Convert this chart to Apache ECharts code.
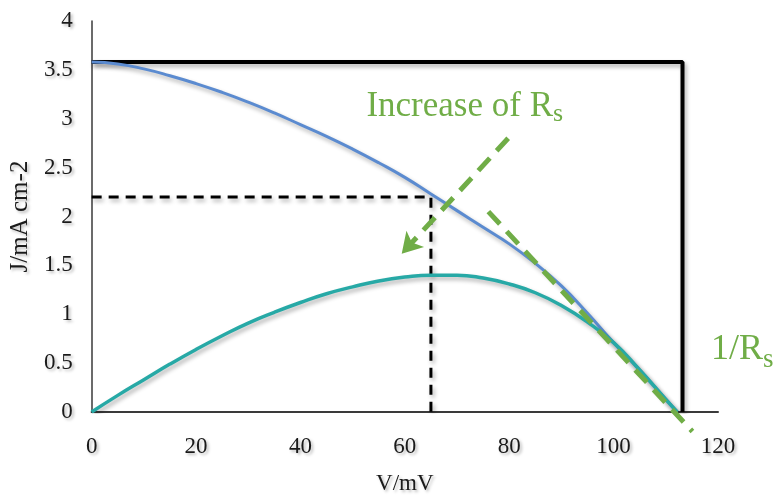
<!DOCTYPE html>
<html>
<head>
<meta charset="utf-8">
<script src="https://cdn.jsdelivr.net/npm/echarts@6/dist/echarts.min.js"></script>
<style>
  html, body { margin: 0; padding: 0; background: #fff; }
  #chart { width: 783px; height: 500px; }
</style>
</head>
<body>
<div id="chart"></div>
<script>
// Voltage samples (mV)
const voltage = [0, 5, 10, 15, 20, 25, 30, 35, 40, 45, 50, 55, 60, 65, 70, 75, 80, 85, 90, 95, 100, 105, 110, 112.2];
// Current density J (mA cm-2)
const currentDensity = [3.58, 3.56, 3.51, 3.44, 3.36, 3.27, 3.17, 3.06, 2.94, 2.82, 2.69, 2.55, 2.40, 2.23, 2.06, 1.89, 1.72, 1.52, 1.29, 1.01, 0.71, 0.43, 0.13, 0];
// Power curve (same vertical scale)
const power = [0, 0.17, 0.33, 0.49, 0.64, 0.78, 0.91, 1.02, 1.12, 1.21, 1.28, 1.34, 1.38, 1.40, 1.40, 1.37, 1.31, 1.22, 1.09, 0.92, 0.71, 0.43, 0.13, 0];

// Ideal rectangle: Jsc up to Voc
const jsc = 3.58;
const vocBox = 113.2;
// Maximum power point
const vmp = 65;
const jmp = 2.20;
// Series-resistance slope line near Voc
const slopeLine = [[76, 2.05], [115.1, -0.2]];
// "Increase of Rs" arrow
const arrowStart = [79.8, 2.80];
const arrowEnd = [59.4, 1.62];

const xTicks = { min: 0, max: 120, step: 20 };
const yTicks = { min: 0, max: 4, step: 0.5 };

const green = '#70AD47';
const serif = '"Liberation Serif", "Times New Roman", serif';
const labelShadow = {
  textShadowColor: 'rgba(0,0,0,0.28)',
  textShadowBlur: 3,
  textShadowOffsetX: 2,
  textShadowOffsetY: 2
};
const lineShadow = {
  shadowColor: 'rgba(0,0,0,0.3)',
  shadowBlur: 4,
  shadowOffsetX: 2,
  shadowOffsetY: 3
};

const pair = (xs, ys) => xs.map((x, i) => [x, ys[i]]);

const chart = echarts.init(document.getElementById('chart'), null, { renderer: 'canvas' });

chart.setOption({
  animation: false,
  backgroundColor: '#fff',
  grid: { left: 89, right: 65, top: 21, bottom: 88, containLabel: false },
  xAxis: {
    type: 'value',
    min: xTicks.min, max: xTicks.max, interval: xTicks.step,
    name: 'V/mV',
    nameLocation: 'middle',
    nameGap: 60,
    nameTextStyle: Object.assign({ fontFamily: serif, fontSize: 23, color: '#1a1a1a' }, labelShadow),
    axisLine: { show: true, onZero: false, lineStyle: { color: '#3a3a3a', width: 2 } },
    axisTick: { show: false },
    splitLine: { show: false },
    axisLabel: Object.assign({ fontFamily: serif, fontSize: 23, color: '#1a1a1a', margin: 23 }, labelShadow)
  },
  yAxis: {
    type: 'value',
    min: yTicks.min, max: yTicks.max, interval: yTicks.step,
    name: 'J/mA cm-2',
    nameLocation: 'middle',
    nameGap: 56,
    nameRotate: 90,
    nameTextStyle: Object.assign({ fontFamily: serif, fontSize: 25, color: '#1a1a1a' }, labelShadow),
    axisLine: { show: true, lineStyle: { color: '#3a3a3a', width: 1.5 } },
    axisTick: { show: false },
    splitLine: { show: false },
    axisLabel: Object.assign({ fontFamily: serif, fontSize: 23, color: '#1a1a1a', margin: 19 }, labelShadow)
  },
  series: [
    {
      name: 'box',
      type: 'line',
      data: [[0, jsc], [vocBox, jsc], [vocBox, 0]],
      symbol: 'none',
      lineStyle: Object.assign({ color: '#000', width: 4 }, lineShadow),
      z: 3
    },
    {
      name: 'mpp',
      type: 'line',
      data: [[0, jmp], [vmp, jmp], [vmp, 0]],
      symbol: 'none',
      lineStyle: Object.assign({ color: '#000', width: 3, type: [10, 7] }, lineShadow),
      z: 3
    },
    {
      name: 'J',
      type: 'line',
      data: pair(voltage, currentDensity),
      smooth: 0.5,
      symbol: 'none',
      lineStyle: Object.assign({ color: '#5B8BD0', width: 3 }, lineShadow),
      z: 4
    },
    {
      name: 'P',
      type: 'line',
      data: pair(voltage, power),
      smooth: 0.5,
      symbol: 'none',
      lineStyle: Object.assign({ color: '#27A9A6', width: 3.5 }, lineShadow),
      z: 5
    },
    {
      name: 'slope',
      type: 'line',
      data: slopeLine,
      clip: false,
      symbol: 'none',
      lineStyle: { color: green, width: 5, type: [17, 10] },
      z: 6
    },
    {
      name: 'arrow',
      type: 'line',
      data: [],
      markLine: {
        silent: true,
        symbol: ['none', 'arrow'],
        symbolSize: [18, 20],
        label: { show: false },
        lineStyle: { color: green, width: 5, type: [17, 10] },
        data: [[{ coord: arrowStart }, { coord: arrowEnd }]]
      },
      z: 6
    }
  ],
  graphic: [
    {
      type: 'text',
      x: 553, y: 89,
      style: { text: 'Increase of R', font: '35px ' + serif, fill: green, align: 'right', verticalAlign: 'top' }
    },
    {
      type: 'text',
      x: 553, y: 101,
      style: { text: 's', font: '26px ' + serif, fill: green, align: 'left', verticalAlign: 'top' }
    },
    {
      type: 'text',
      x: 763, y: 332,
      style: { text: '1/R', font: '36px ' + serif, fill: green, align: 'right', verticalAlign: 'top' }
    },
    {
      type: 'text',
      x: 763, y: 346,
      style: { text: 's', font: '27px ' + serif, fill: green, align: 'left', verticalAlign: 'top' }
    }
  ]
});
</script>
</body>
</html>
